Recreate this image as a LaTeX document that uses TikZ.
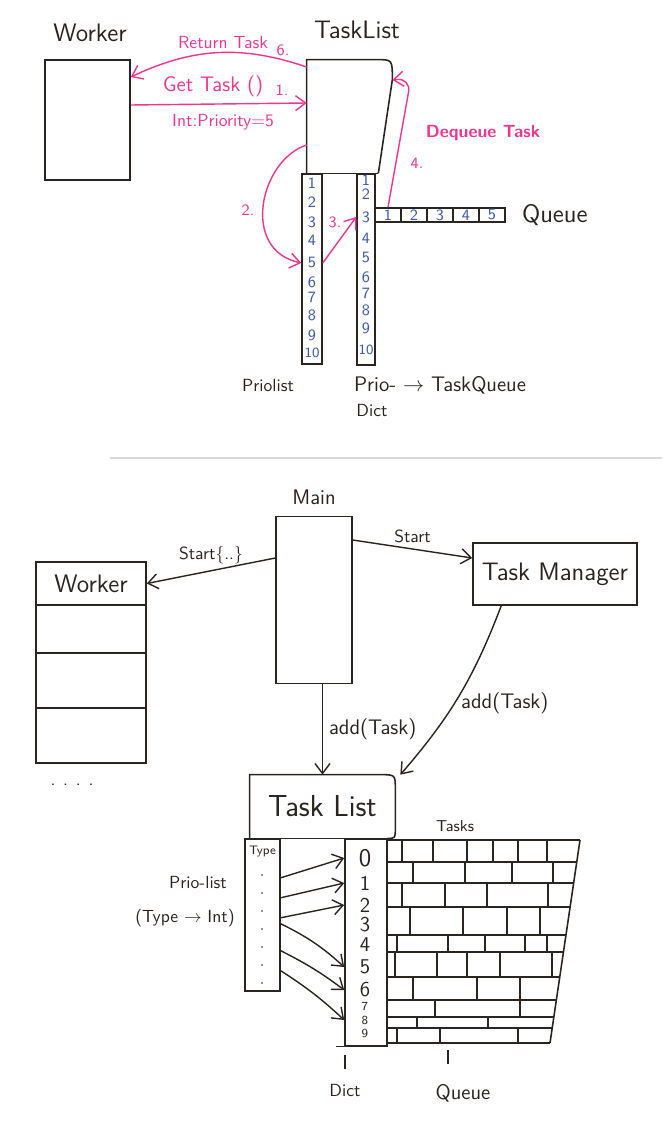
\documentclass[tikz,border=0pt]{standalone}
\usepackage{tikz}
\usetikzlibrary{arrows.meta, positioning, calc}
\definecolor{PenInk}{HTML}{2B2522}
\definecolor{PenPink}{HTML}{F0368F}
\definecolor{PenBlue}{HTML}{3F5BB0}

\begin{document}
\begin{tikzpicture}[x=0.02cm, y=-0.02cm,
    every node/.style={font=\sffamily, text=PenInk},
    box/.style={rectangle, draw=PenInk, line width=0.9pt, inner sep=0pt},
    lbl/.style={font=\sffamily\Large},
    note/.style={font=\sffamily, text=PenPink},
    num/.style={font=\sffamily\small, text=PenBlue, inner sep=0pt},
    ink/.style={draw=PenInk, line width=0.9pt},
    flow/.style={->, >={Straight Barb[length=2mm, width=3mm]}, draw=PenInk, line width=0.8pt},
    pflow/.style={flow, draw=PenPink}]
    \fill[white] (0,0) rectangle (662,1128);
    \useasboundingbox (0,0) rectangle (662,1128);

    % upper sheet
    \node[lbl] (wlabel) at (90,33) {Worker};
    \node[box, minimum width=1.7cm, minimum height=2.4cm] (worker) at (87.5,120) {};
    \node[lbl] (tlabel) at (357,30) {TaskList};
    \node[minimum width=1.7cm, minimum height=2.26cm, inner sep=0pt] (tlbox) at (349.5,116.5) {};
    \draw[ink] (tlbox.south west) -- (tlbox.north west) -- ([xshift=-0.3cm]tlbox.north east) .. controls (tlbox.north east) .. ([yshift=-0.4cm]tlbox.north east) -- ([xshift=-0.28cm]tlbox.south east);
    \draw[ink] ([xshift=-0.1cm]tlbox.south west) -- ([xshift=-0.28cm]tlbox.south east);

    \node[box, minimum width=0.4cm, minimum height=3.8cm, anchor=north] (prio) at (312,173) {};
    \node[box, minimum width=0.36cm, minimum height=3.82cm, anchor=north] (pdict) at (366,173) {};
    \foreach \n/\y in {1/183,2/202,3/222,4/240,5/263,6/282,7/297,8/315,9/335}
        \node[num] (p\n) at (312,\y) {\n};
    \node[num, font=\sffamily\footnotesize] (p10) at (312,353) {10};
    \foreach \n/\y in {1/180,2/194,3/217,4/238,5/258,6/277,7/293,8/310,9/328}
        \node[num] (d\n) at (366,\y) {\n};
    \node[num, font=\sffamily\footnotesize] (d10) at (366,350) {10};

    \foreach \i in {1,...,5}
        \node[box, minimum width=0.52cm, minimum height=0.28cm, font=\sffamily\small, text=PenBlue] (q\i) at ({375+26*(\i-0.5)},215) {\i};
    \node[lbl, right=0.2cm of q5] (qlabel) {Queue};

    \draw[pflow] ([yshift=0.99cm]tlbox.west) to[bend right=22] ([yshift=0.86cm]worker.east);
    \node[note] (rtlbl) at (223,43) {Return Task};
    \node[note, font=\sffamily\small] (rtnum) at (283,50) {6.};
    \draw[pflow] ([yshift=0.3cm]worker.east) -- ([yshift=0.27cm]tlbox.west);
    \node[note, font=\sffamily\large] (gtlbl) at (213,86) {Get Task ()};
    \node[note, font=\sffamily\small] (gtnum) at (282,90) {1.};
    \node[note] (prlbl) at (223,122) {Int:Priority=5};

    \draw[pflow] ([yshift=-0.57cm]tlbox.west) .. controls (260,160) and (240,250) .. (prio.west |- p5);
    \node[note, font=\sffamily\small] (s2) at (248,210) {2.};
    \draw[pflow] (prio.east |- p5) -- (pdict.west |- d3);
    \node[note, font=\sffamily\small] (s3) at (335,222) {3.};
    \draw[pflow, rounded corners=8pt] (q1.north) -- (411,78) -- ([yshift=0.73cm]tlbox.east);
    \node[note, font=\sffamily\small] (s4) at (417,163) {4.};
    \node[note, font=\sffamily\bfseries] (dqlbl) at (483,133) {Dequeue Task};

    \node (plabel) at (268,385) {Priolist};
    \node[font=\sffamily\large] (pdlabel) at (440,385) {Prio- $\rightarrow$ TaskQueue};
    \node (dlabel) at (372,410) {Dict};

    % sheet edge
    \draw[gray!30, line width=0.8pt] (110,458) -- (662,458);

    % lower sheet
    \node[box, minimum width=1.52cm, minimum height=3.34cm] (main) at (314,600) {};
    \node[font=\sffamily\large, above=0.1cm of main] (mlabel) {Main};

    \node[box, minimum width=2.2cm, minimum height=0.86cm, font=\sffamily\Large] (wkhdr) at (91,583.5) {Worker};
    \node[box, minimum width=2.2cm, minimum height=0.96cm, below=-0.9pt of wkhdr] (wk1) {};
    \node[box, minimum width=2.2cm, minimum height=1.1cm, below=-0.9pt of wk1] (wk2) {};
    \node[box, minimum width=2.2cm, minimum height=1.1cm, below=-0.9pt of wk2] (wk3) {};
    \node (wkdots) at (72,785) {. . . .};

    \node[box, minimum width=3.28cm, minimum height=1.24cm, font=\sffamily\Large] (tm) at (555,574) {Task Manager};
    \draw[flow] ([yshift=0.84cm]main.west) -- node[midway, above] (slbl) {Start\{..\}} (wkhdr.east);
    \draw[flow] ([yshift=1.2cm]main.east) -- node[midway, above] (stlbl) {Start} ([yshift=0.32cm]tm.west);

    \node[minimum width=2.9cm, minimum height=1.26cm, inner sep=0pt, font=\sffamily\LARGE] (tlist) at (322.5,806.5) {Task List};
    \draw[ink] (tlist.south west) -- (tlist.north west) -- ([xshift=-0.3cm]tlist.north east) .. controls (tlist.north east) .. ([yshift=-0.3cm]tlist.north east) -- ([yshift=0.2cm]tlist.south east) .. controls (tlist.south east) .. ([xshift=-0.16cm]tlist.south east);
    \draw[ink] ([xshift=-0.1cm]tlist.south west) -- ([xshift=-0.16cm]tlist.south east);
    \draw[flow] (main.south -| tlist.north) -- node[midway, right, font=\sffamily\large] (a1lbl) {add(Task)} (tlist.north);
    \draw[flow] ([xshift=0.58cm]tm.south west) to[bend left=10] node[pos=0.55, right, font=\sffamily\large] (a2lbl) {add(Task)} ([xshift=0.1cm]tlist.north east);

    \node[box, minimum width=0.7cm, minimum height=3.04cm, anchor=north] (typecol) at (262.5,838) {};
    \node[font=\sffamily\scriptsize, below=1pt of typecol.north] (tylbl) {Type};
    \foreach \y in {875,893,...,983}
        \fill[PenInk] (262,\y) circle (0.5pt);
    \node[box, minimum width=0.84cm, minimum height=4.14cm, anchor=north] (dictcol) at (366,838) {};
    \draw[ink] (dictcol.south west) -- ++(-0.16cm,0);
    \foreach \n/\y/\fs in {0/858/\Large,1/883/\large,2/905/\large,3/925/\large,4/945/\large,5/967/\large,6/990/\large,7/1007/\scriptsize,8/1020/\scriptsize,9/1033/\scriptsize}
        \node[font=\sffamily\fs, inner sep=0pt] (k\n) at (365,\y) {\n};
    \foreach \dy/\k/\b in {0.74/0/0, 0.34/1/0, -0.06/2/0, -0.18/5/8, -0.72/6/5, -1.12/8/5}
        \draw[flow] ([yshift=\dy cm]typecol.east) to[bend left=\b] (dictcol.west |- k\k);

    % queue rows
    \foreach \y in {840,862,883,907,935,952,977,1000,1017,1028,1043}
        \draw[ink] (387,\y) -- ({580-30*(\y-840)/203},\y);
    \draw[ink] (580,840) -- (550,1043);
    \foreach \ya/\yb/\xs in {840/862/{402,433,467,493,518,547}, 862/883/{413,465,512,553}, 883/907/{402,445,487,548}, 907/935/{410,463,507,540}, 935/952/{397,448,485,525,547}, 952/977/{395,437,467,500,552}, 977/1000/{413,477,520}, 1000/1017/{435,520}, 1017/1028/{417,488}, 1028/1043/{397,440,518}}
        \foreach \x in \xs
            \draw[ink] (\x,\ya) -- (\x,\yb);
    \node[font=\sffamily\small] (tasklbl) at (455,826) {Tasks};

    \node (dictlbl) at (345,1090) {Dict};
    \draw[ink, shorten <=5pt, shorten >=5pt] (dictcol.south -| dictlbl.north) -- (dictlbl.north);
    \node[font=\sffamily\large] (qblbl) at (463,1093) {Queue};
    \draw[ink, shorten <=2pt, shorten >=8pt] ([xshift=-0.3cm]qblbl.north |- dictcol.south) -- ([xshift=-0.3cm]qblbl.north);

    \node (pllbl) at (198,882) {Prio-list};
    \node (ptlbl) at (185,918) {(Type $\rightarrow$ Int)};
\end{tikzpicture}
\end{document}
